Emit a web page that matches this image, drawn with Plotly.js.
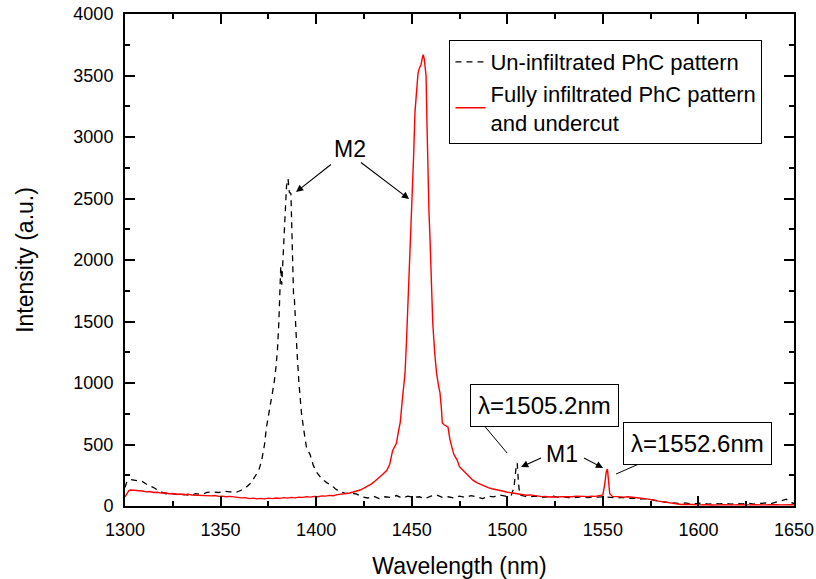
<!DOCTYPE html>
<html>
<head>
<meta charset="utf-8">
<script src="https://cdn.plot.ly/plotly-3.0.1.min.js"></script>
<style>html,body{margin:0;padding:0;background:#fff;}#chart{width:816px;height:579px;}</style>
</head>
<body>
<div id="chart"></div>
<script>
// ---- data ----
const uninfWavelength = [1300,1301,1303,1306,1309,1312,1315,1318,1320,1322,1325,1328,1331,1334,1337,1340,1343,1346,1349,1352,1355,1358,1361,1364,1366,1368,1370,1371.5,1373,1374,1375.5,1377,1378,1379,1379.8,1380.5,1381,1381.5,1382,1382.7,1383.5,1384.5,1385.3,1386,1386.8,1387.3,1387.8,1388.2,1388.6,1389.2,1390,1391,1392.3,1393.5,1395,1396.8,1398.5,1400.5,1403,1405.5,1408,1410,1412.5,1415,1418,1421,1424,1427,1430,1433,1436,1439,1442,1445,1448,1451,1454,1457,1460,1463,1466,1469,1472,1475,1478,1481,1484,1487,1490,1493,1496,1499,1502,1503.5,1504.5,1505.2,1505.8,1506.5,1509,1512,1515,1518,1521,1524,1527,1530,1533,1536,1539,1542,1545,1548,1551,1554,1557,1560,1563,1566,1569,1572,1575,1578,1581,1584,1587,1590,1593,1596,1599,1602,1605,1608,1611,1614,1617,1620,1623,1626,1629,1632,1635,1638,1641,1644,1646,1648,1650];
const uninfIntensity = [150,200,215,210,200,170,150,120,105,95,100,90,95,85,100,95,110,115,110,120,115,110,130,160,190,240,290,370,500,640,780,900,1000,1130,1280,1500,1800,1950,1800,2000,2300,2600,2660,2550,2540,2200,1900,1700,1690,1450,1250,1000,760,620,470,420,330,270,220,190,170,140,115,105,100,98,75,65,80,60,75,70,85,65,80,70,75,60,80,90,70,75,65,80,70,85,75,60,80,75,90,80,85,150,300,350,200,90,80,75,80,70,75,80,70,75,65,70,75,68,72,70,75,70,65,70,60,65,55,60,50,40,35,30,25,20,25,18,20,25,15,20,18,22,15,20,18,22,15,20,25,20,30,45,55,30,20];

const fullWavelength = [1300,1301,1302,1303,1305,1307,1309,1311,1313,1315,1317,1319,1321,1323,1325,1327,1329,1331,1333,1335,1337,1339,1341,1343,1345,1347,1349,1351,1353,1355,1357,1359,1361,1363,1365,1367,1369,1371,1373,1375,1377,1379,1381,1383,1385,1387,1389,1391,1393,1395,1397,1399,1401,1403,1405,1407,1409,1411,1413,1415,1417,1419,1421,1423,1425,1427,1429,1431,1433,1435,1437,1438.5,1440,1441,1442,1443,1444,1445,1446.5,1447.3,1448,1449,1450,1451,1451.7,1452.5,1453.3,1454,1454.9,1455.5,1456,1456.5,1457,1457.5,1458,1458.5,1459,1459.6,1460.3,1461,1462,1463,1464,1464.8,1465.5,1466,1467,1468,1469,1470,1471,1472,1473.7,1475,1476.8,1478,1480,1482,1484,1486,1488,1490,1492,1494,1496,1498,1500,1502,1504,1506,1508,1510,1512,1514,1516,1518,1520,1522,1524,1526,1528,1530,1532,1534,1536,1538,1540,1542,1544,1546,1548,1550,1551,1551.8,1552.4,1553,1553.6,1555,1557,1559,1561,1563,1565,1567,1569,1571,1573,1575,1577,1579,1581,1583,1585,1587,1589,1591,1593,1595,1597,1599,1601,1603,1605,1607,1609,1611,1613,1615,1617,1619,1621,1623,1625,1627,1629,1631,1633,1635,1637,1639,1641,1643,1645,1647,1649,1650];
const fullIntensity = [75,100,125,130,128,120,122,115,118,110,112,105,108,100,102,96,98,92,95,90,88,92,85,88,82,85,78,80,75,78,72,70,66,68,60,64,58,62,58,64,60,65,62,68,64,70,66,72,70,76,72,78,75,82,80,86,84,92,95,100,104,112,120,130,145,160,180,205,230,260,290,340,450,480,510,600,680,850,1080,1350,1620,2000,2430,2850,3200,3400,3520,3560,3590,3640,3670,3640,3580,3500,3100,2700,2400,2160,1800,1490,1250,1080,980,920,800,675,660,650,640,540,480,420,375,320,290,270,240,210,190,175,160,150,140,135,125,120,112,108,100,95,92,88,90,85,80,76,78,73,75,72,76,74,78,75,80,76,78,75,80,78,82,90,180,280,300,200,100,78,75,78,72,75,70,68,65,62,58,55,48,40,35,28,22,18,15,12,14,10,12,9,11,8,10,8,11,9,10,8,11,9,10,8,11,9,10,8,10,9,11,8,10,9,11,9,10,9];

const seriesNames = ['Un-infiltrated PhC pattern', 'Fully infiltrated PhC pattern<br>and undercut'];
const xTitle = 'Wavelength (nm)';
const yTitle = 'Intensity (a.u.)';

const FONT = 'Liberation Sans, Arial, Helvetica, sans-serif';

const traces = [
  {x: uninfWavelength, y: uninfIntensity, name: seriesNames[0], mode: 'lines', type: 'scatter',
   line: {color: '#000000', width: 1.3, dash: '6px,5px'}},
  {x: fullWavelength, y: fullIntensity, name: seriesNames[1], mode: 'lines', type: 'scatter',
   line: {color: '#ff0000', width: 1.4}}
];

const axisCommon = {
  showline: true, linecolor: '#000', linewidth: 2, mirror: 'allticks',
  ticks: 'inside', ticklen: 10, tickwidth: 2, tickcolor: '#000',
  showgrid: false, zeroline: false, ticklabelstandoff: 6,
  tickfont: {family: FONT, size: 18, color: '#000'}
};

const arrowCommon = {showarrow: true, arrowhead: 2, arrowsize: 1.3, arrowwidth: 1.1, arrowcolor: '#000',
  text: ' ', xref: 'x', yref: 'y', axref: 'x', ayref: 'y', font: {size: 2}};

const layout = {
  width: 816, height: 579,
  margin: {l: 125, r: 22, t: 14, b: 73},
  paper_bgcolor: '#fff', plot_bgcolor: '#fff',
  font: {family: FONT, color: '#000'},
  showlegend: true,
  legend: {x: 0.485, y: 0.947, xanchor: 'left', yanchor: 'top', bgcolor: '#fff',
    bordercolor: '#000', borderwidth: 1, font: {family: FONT, size: 22, color: '#000'},
    itemwidth: 30, tracegroupgap: 0},
  xaxis: Object.assign({}, axisCommon, {
    range: [1300, 1650], dtick: 50, tick0: 1300,
    minor: {dtick: 25, ticks: 'inside', ticklen: 5, tickwidth: 2, tickcolor: '#000'},
    title: {text: xTitle, font: {family: FONT, size: 23, color: '#000'}, standoff: 19}
  }),
  yaxis: Object.assign({}, axisCommon, {
    range: [0, 4000], dtick: 500, tick0: 0,
    minor: {dtick: 250, ticks: 'inside', ticklen: 5, tickwidth: 2, tickcolor: '#000'},
    title: {text: yTitle, font: {family: FONT, size: 23, color: '#000'}, standoff: 33}
  }),
  annotations: [
    {text: 'M2', x: 1417.7, y: 2902, xref: 'x', yref: 'y', showarrow: false,
     font: {family: FONT, size: 23, color: '#000'}},
    Object.assign({}, arrowCommon, {x: 1389.5, y: 2553, ax: 1408.8, ay: 2789}),
    Object.assign({}, arrowCommon, {x: 1448.6, y: 2496, ax: 1422.4, ay: 2805}),
    {text: 'M1', x: 1528.6, y: 423, xref: 'x', yref: 'y', showarrow: false,
     font: {family: FONT, size: 23, color: '#000'}},
    Object.assign({}, arrowCommon, {x: 1507.2, y: 317, ax: 1518.7, ay: 398}),
    Object.assign({}, arrowCommon, {x: 1550.1, y: 309, ax: 1539.1, ay: 398}),
    {text: 'λ=1505.2nm', x: 1519.7, y: 821, xref: 'x', yref: 'y', showarrow: false,
     bordercolor: '#000', borderwidth: 1, borderpad: 7, bgcolor: '#fff',
     font: {family: FONT, size: 24, color: '#000'}},
    {text: 'λ=1552.6nm', x: 1599.3, y: 512, xref: 'x', yref: 'y', showarrow: false,
     bordercolor: '#000', borderwidth: 1, borderpad: 7, bgcolor: '#fff',
     font: {family: FONT, size: 24, color: '#000'}}
  ],
  shapes: [
    {type: 'line', xref: 'x', yref: 'y', x0: 1486.3, y0: 683, x1: 1499.9, y1: 431, line: {color: '#000', width: 1}},
    {type: 'line', xref: 'x', yref: 'y', x0: 1573.6, y0: 374, x1: 1556.9, y1: 260, line: {color: '#000', width: 1}}
  ]
};

Plotly.newPlot('chart', traces, layout, {displayModeBar: false, staticPlot: true});
</script>
</body>
</html>
